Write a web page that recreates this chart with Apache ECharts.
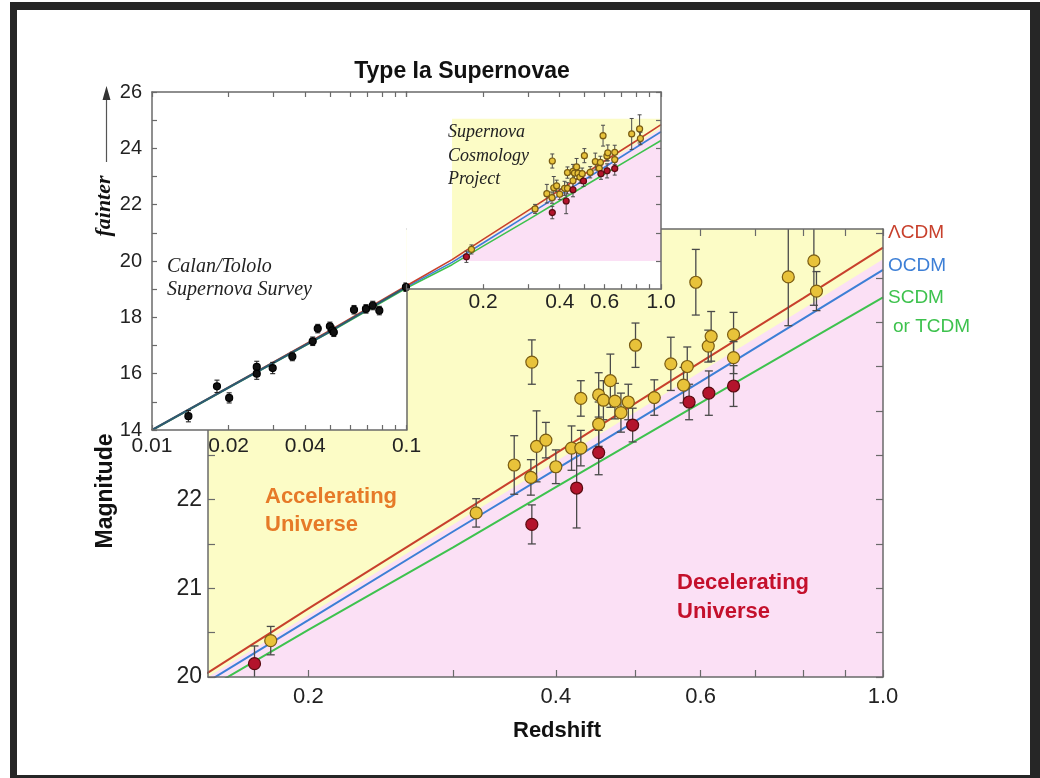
<!DOCTYPE html>
<html>
<head>
<meta charset="utf-8">
<title>Type Ia Supernovae</title>
<script src="https://cdn.jsdelivr.net/npm/echarts@6.0.0/dist/echarts.min.js"></script>
<style>
html, body { margin:0; padding:0; background:#fff; width:1040px; height:778px; overflow:hidden; }
#frame { position:absolute; left:10px; top:2px; width:1030px; height:776px; background:#262626; }
#inner { position:absolute; left:17px; top:10px; width:1013px; height:765px; background:#fff; }
#chart { position:absolute; left:0; top:0; width:1040px; height:778px; }
</style>
</head>
<body>
<div id="frame"></div>
<div id="inner"></div>
<div id="chart"></div>
<script>
const LOG = Math.log10;
const FONT = '"Liberation Sans", Arial, Helvetica, sans-serif';
const SERIF = '"Liberation Serif", "DejaVu Serif", Times, serif';

// ---------- axis domains ----------
const mainZRange = [0.151, 1.0];
const mainMagRange = [20, 25.05];
const insetLowZRange = [0.01, 0.1];
const insetHighZRange = [0.1, 1.0];
const insetMagRange = [14, 26];
const insetHighMagRange = [19, 26];

// ---------- ticks and tick labels ----------
const mainXTicks = [0.2, 0.3, 0.4, 0.5, 0.6, 0.7, 0.8, 0.9, 1.0];
const mainXLabelValues = [0.2, 0.4, 0.6, 1.0];
const mainXLabels = ['0.2', '0.4', '0.6', '1.0'];
const mainYTicks = [20, 20.5, 21, 21.5, 22, 22.5, 23, 23.5, 24, 24.5, 25];
const mainYLabels = [20, 21, 22];

const insetLowXTicks = [0.01, 0.02, 0.03, 0.04, 0.05, 0.06, 0.07, 0.08, 0.09, 0.1];
const insetLowXLabelValues = [0.01, 0.02, 0.04, 0.1];
const insetLowXLabels = ['0.01', '0.02', '0.04', '0.1'];
const insetHighXTicks = [0.1, 0.2, 0.3, 0.4, 0.5, 0.6, 0.7, 0.8, 0.9, 1.0];
const insetHighXLabelValues = [0.2, 0.4, 0.6, 1.0];
const insetHighXLabels = ['0.2', '0.4', '0.6', '1.0'];
const insetYTicks = [14, 15, 16, 17, 18, 19, 20, 21, 22, 23, 24, 25, 26];
const insetYLabels = [14, 16, 18, 20, 22, 24, 26];
const insetHighYTicks = [20, 21, 22, 23, 24, 25, 26];

// ---------- cosmological model curves ----------
const modelZ    = [0.01,  0.02,  0.05,  0.1,   0.151, 0.2,   0.3,   0.4,   0.6,   0.8,   1.0];
const lambdaCDM = [14.00, 15.52, 17.53, 19.12, 20.05, 20.77, 21.79, 22.52, 23.55, 24.27, 24.84];
const openCDM   = [14.00, 15.51, 17.50, 19.08, 19.95, 20.64, 21.64, 22.34, 23.33, 24.04, 24.59];
const flatCDM   = [13.99, 15.50, 17.48, 19.04, 19.87, 20.53, 21.46, 22.14, 23.09, 23.76, 24.28];

// accelerating / decelerating boundary
const boundaryZ   = [0.151, 0.2,   0.3,   0.4,   0.6,   0.8,   1.0];
const boundaryMag = [20.00, 20.70, 21.72, 22.43, 23.44, 24.15, 24.71];

// ---------- Supernova Cosmology Project (yellow) ----------
const scpZ   = [0.180, 0.320, 0.356, 0.373, 0.379, 0.389, 0.400, 0.418, 0.429, 0.451, 0.374, 0.429, 0.451, 0.457, 0.466, 0.472, 0.480, 0.490, 0.500, 0.527, 0.552, 0.572, 0.578, 0.592, 0.613, 0.618, 0.658, 0.658, 0.767, 0.824, 0.830];
const scpMag = [20.41, 21.85, 22.39, 22.25, 22.60, 22.67, 22.37, 22.58, 22.58, 22.85, 23.55, 23.14, 23.18, 23.12, 23.34, 23.11, 22.98, 23.10, 23.74, 23.15, 23.53, 23.29, 23.50, 24.45, 23.73, 23.84, 23.86, 23.60, 24.51, 24.69, 24.35];
const scpErr = [0.16,  0.16,  0.33,  0.20,  0.40,  0.20,  0.19,  0.25,  0.20,  0.25,  0.25,  0.20,  0.25,  0.22,  0.30,  0.20,  0.22,  0.20,  0.25,  0.20,  0.30,  0.20,  0.22,  0.37,  0.18,  0.28,  0.25,  0.18,  0.55,  0.50,  0.22];

// ---------- red points ----------
const redZ   = [0.172, 0.374, 0.424, 0.451, 0.496, 0.581, 0.614, 0.658];
const redMag = [20.15, 21.72, 22.13, 22.53, 22.84, 23.10, 23.20, 23.28];
const redErr = [0.20,  0.22,  0.45,  0.25,  0.19,  0.20,  0.25,  0.23];

// ---------- Calan/Tololo Supernova Survey (black) ----------
const calanZ   = [0.0139, 0.0180, 0.0201, 0.0258, 0.0258, 0.0298, 0.0356, 0.0428, 0.0448, 0.0500, 0.0511, 0.0518, 0.0622, 0.0693, 0.0737, 0.0782, 0.0995];
const calanMag = [14.49,  15.55,  15.14,  16.24,  16.00,  16.20,  16.61,  17.15,  17.60,  17.68,  17.54,  17.47,  18.27,  18.30,  18.42,  18.24,  19.07];
const calanErr = [0.20,   0.22,   0.18,   0.20,   0.20,   0.20,   0.15,   0.15,   0.15,   0.15,   0.15,   0.15,   0.15,   0.15,   0.15,   0.15,   0.15];

// ---------- colours ----------
const AXIS_COLOR = '#6a6a6a';
const YELLOW_BG = '#fcfcc6';
const PINK_BG = '#fbe0f5';
const C_LAMBDA = '#c8402c';
const C_OPEN = '#3d7fd6';
const C_FLAT = '#3ec24e';
const C_YELLOW_PT = '#e8c23a';
const C_YELLOW_EDGE = '#7a5c12';
const C_RED_PT = '#b3142c';
const C_RED_EDGE = '#5a0a10';
const C_BAR = '#4a4a4a';

// ---------- helpers ----------
function pts(zs, ms) { return zs.map((z, i) => [z, ms[i]]); }

function labelFor(vals, texts) {
  return function (v) {
    for (let i = 0; i < vals.length; i++) {
      if (Math.abs(LOG(vals[i]) - v) < 1e-6) return texts[i];
    }
    return '';
  };
}

function logDataAxis(gridIndex, range) {
  return { type: 'log', logBase: 10, gridIndex, min: range[0], max: range[1], show: false };
}

function logTickAxis(gridIndex, range, ticks, labelVals, labelTexts, position, labelSize, labelMargin, tickLen, z) {
  const ax = {
    type: 'value', gridIndex, position, z,
    min: LOG(range[0]), max: LOG(range[1]),
    axisLine: { show: true, onZero: false, lineStyle: { color: AXIS_COLOR, width: 1.5 } },
    axisTick: { show: true, inside: true, length: tickLen, customValues: ticks.map(LOG), lineStyle: { color: AXIS_COLOR, width: 1.2 } },
    splitLine: { show: false },
    axisLabel: { show: false }
  };
  if (labelVals) {
    ax.axisLabel = {
      show: true, customValues: labelVals.map(LOG), formatter: labelFor(labelVals, labelTexts),
      fontSize: labelSize, margin: labelMargin, color: '#222', fontFamily: FONT
    };
  }
  return ax;
}

function magAxis(gridIndex, range, ticks, labels, position, tickLen, labelSize, labelMargin, z) {
  const ax = {
    type: 'value', gridIndex, position, z,
    min: range[0], max: range[1],
    axisLine: { show: true, onZero: false, lineStyle: { color: AXIS_COLOR, width: 1.5 } },
    axisTick: { show: true, inside: true, length: tickLen, customValues: ticks, lineStyle: { color: AXIS_COLOR, width: 1.2 } },
    splitLine: { show: false },
    axisLabel: { show: false }
  };
  if (labels) {
    ax.axisLabel = { show: true, customValues: labels, fontSize: labelSize, margin: labelMargin, color: '#222', fontFamily: FONT };
  }
  return ax;
}

function modelLine(xi, yi, mags, color, width, z) {
  return {
    type: 'line', xAxisIndex: xi, yAxisIndex: yi, z, silent: true,
    data: pts(modelZ, mags), showSymbol: false, symbol: 'none', clip: true,
    lineStyle: { color, width }
  };
}

function areaSeries(xi, yi, zs, ms, color, origin, z) {
  return {
    type: 'line', xAxisIndex: xi, yAxisIndex: yi, z, silent: true,
    data: pts(zs, ms), showSymbol: false, symbol: 'none', clip: true,
    lineStyle: { width: 0, opacity: 0 },
    areaStyle: { color, opacity: 1, origin }
  };
}

function errorBarSeries(xi, yi, zs, ms, es, cap, color, width, z) {
  return {
    type: 'custom', xAxisIndex: xi, yAxisIndex: yi, z, clip: true, silent: true,
    encode: { x: 0, y: [1, 2] },
    data: zs.map((zv, i) => [zv, ms[i] - es[i], ms[i] + es[i]]),
    renderItem: function (params, api) {
      const lo = api.coord([api.value(0), api.value(1)]);
      const hi = api.coord([api.value(0), api.value(2)]);
      const st = { stroke: color, lineWidth: width };
      return {
        type: 'group',
        children: [
          { type: 'line', shape: { x1: lo[0], y1: lo[1], x2: hi[0], y2: hi[1] }, style: st },
          { type: 'line', shape: { x1: lo[0] - cap, y1: lo[1], x2: lo[0] + cap, y2: lo[1] }, style: st },
          { type: 'line', shape: { x1: hi[0] - cap, y1: hi[1], x2: hi[0] + cap, y2: hi[1] }, style: st }
        ]
      };
    }
  };
}

function pointSeries(xi, yi, zs, ms, size, fill, edge, z) {
  return {
    type: 'scatter', xAxisIndex: xi, yAxisIndex: yi, z, silent: true,
    symbol: 'circle', symbolSize: size, data: pts(zs, ms),
    itemStyle: { color: fill, borderColor: edge, borderWidth: 1.2, opacity: 1 }
  };
}

function txt(x, y, text, font, fill, opts) {
  return Object.assign({
    type: 'text', x, y, z: 100, silent: true,
    style: Object.assign({ text, font, fill, align: 'left', verticalAlign: 'middle' }, (opts && opts.style) || {})
  }, (opts && opts.el) || {});
}

// ---------- option ----------
const option = {
  animation: false,
  backgroundColor: 'transparent',
  grid: [
    { left: 208, top: 229, width: 675, height: 448, show: true, backgroundColor: YELLOW_BG, borderWidth: 0, z: 0, outerBoundsMode: 'none' },
    { left: 152, top: 92, width: 254.5, height: 338, show: true, backgroundColor: '#ffffff', borderWidth: 0, z: 10, outerBoundsMode: 'none' },
    { left: 406.5, top: 92, width: 254.5, height: 197.17, show: true, backgroundColor: '#ffffff', borderWidth: 0, z: 10, outerBoundsMode: 'none' },
    { left: 152, top: 289.17, width: 254.5, height: 140.83, show: false, z: 10, outerBoundsMode: 'none' }
  ],
  xAxis: [
    logDataAxis(0, mainZRange),                                                                                  // 0
    logTickAxis(0, mainZRange, mainXTicks, mainXLabelValues, mainXLabels, 'bottom', 22, 9, 7, 6),                // 1
    logTickAxis(0, mainZRange, mainXTicks, null, null, 'top', 0, 0, 7, 6),                                       // 2
    logDataAxis(1, insetLowZRange),                                                                              // 3
    logTickAxis(1, insetLowZRange, insetLowXTicks, insetLowXLabelValues, insetLowXLabels, 'bottom', 21, 6, 5, 16), // 4
    logTickAxis(1, insetLowZRange, insetLowXTicks, null, null, 'top', 0, 0, 5, 16),                              // 5
    logDataAxis(2, insetHighZRange),                                                                             // 6
    logTickAxis(2, insetHighZRange, insetHighXTicks, insetHighXLabelValues, insetHighXLabels, 'bottom', 21, 3, 5, 16), // 7
    logTickAxis(2, insetHighZRange, insetHighXTicks, null, null, 'top', 0, 0, 5, 16),                            // 8
    { type: 'value', gridIndex: 3, min: 0, max: 1, show: false }                                                 // 9
  ],
  yAxis: [
    magAxis(0, mainMagRange, mainYTicks, mainYLabels, 'left', 7, 23, 6, 6),        // 0
    magAxis(0, mainMagRange, mainYTicks, null, 'right', 7, 0, 0, 6),               // 1
    magAxis(1, insetMagRange, insetYTicks, insetYLabels, 'left', 5, 20, 10, 16),   // 2
    { type: 'value', gridIndex: 2, min: insetHighMagRange[0], max: insetHighMagRange[1], show: false }, // 3
    magAxis(2, insetHighMagRange, insetHighYTicks, null, 'right', 5, 0, 0, 16),    // 4
    { type: 'value', gridIndex: 3, position: 'right', min: 0, max: 1, z: 16,       // 5
      axisLine: { show: true, onZero: false, lineStyle: { color: AXIS_COLOR, width: 1.5 } },
      axisTick: { show: false }, axisLabel: { show: false }, splitLine: { show: false } }
  ],
  series: [
    // main chart
    areaSeries(0, 0, boundaryZ, boundaryMag, PINK_BG, 'start', 1),
    modelLine(0, 0, flatCDM, C_FLAT, 2, 3),
    modelLine(0, 0, openCDM, C_OPEN, 2, 3),
    modelLine(0, 0, lambdaCDM, C_LAMBDA, 2, 3),
    errorBarSeries(0, 0, scpZ, scpMag, scpErr, 4, C_BAR, 1.3, 4),
    errorBarSeries(0, 0, redZ, redMag, redErr, 4, C_BAR, 1.3, 4),
    pointSeries(0, 0, scpZ, scpMag, 12, C_YELLOW_PT, C_YELLOW_EDGE, 5),
    pointSeries(0, 0, redZ, redMag, 12, C_RED_PT, C_RED_EDGE, 5),

    // inset, high-redshift part
    areaSeries(6, 3, mainZRange, [mainMagRange[1], mainMagRange[1]], YELLOW_BG, mainMagRange[0], 11),
    areaSeries(6, 3, boundaryZ, boundaryMag, PINK_BG, mainMagRange[0], 12),
    modelLine(6, 3, flatCDM, C_FLAT, 1.6, 13),
    modelLine(6, 3, openCDM, C_OPEN, 1.6, 13),
    modelLine(6, 3, lambdaCDM, C_LAMBDA, 1.6, 13),
    errorBarSeries(6, 3, scpZ, scpMag, scpErr, 2, C_BAR, 1, 14),
    errorBarSeries(6, 3, redZ, redMag, redErr, 2, C_BAR, 1, 14),
    pointSeries(6, 3, scpZ, scpMag, 6, C_YELLOW_PT, C_YELLOW_EDGE, 15),
    pointSeries(6, 3, redZ, redMag, 6, C_RED_PT, C_RED_EDGE, 15),

    // inset, low-redshift part
    modelLine(3, 2, flatCDM, C_FLAT, 1.8, 13),
    modelLine(3, 2, lambdaCDM, C_LAMBDA, 1.8, 13),
    modelLine(3, 2, openCDM, '#2d5b72', 2.2, 13),
    errorBarSeries(3, 2, calanZ, calanMag, calanErr, 2.5, '#222', 1.1, 14),
    pointSeries(3, 2, calanZ, calanMag, 7, '#111', '#000', 15)
  ],
  graphic: [
    txt(462, 72, 'Type Ia Supernovae', 'bold 23px ' + FONT, '#111', { style: { align: 'center' } }),
    { type: 'line', z: 100, silent: true, shape: { x1: 106.5, y1: 162, x2: 106.5, y2: 97 }, style: { stroke: '#555', lineWidth: 1.2 } },
    { type: 'polygon', z: 100, silent: true, shape: { points: [[106.5, 86], [102.5, 100], [110.5, 100]] }, style: { fill: '#333' } },
    txt(104, 206, 'fainter', 'italic bold 22px ' + SERIF, '#111', { style: { align: 'center' }, el: { rotation: Math.PI / 2 } }),
    txt(106, 491, 'Magnitude', 'bold 23px ' + FONT, '#111', { style: { align: 'center' }, el: { rotation: Math.PI / 2 } }),
    txt(557, 731, 'Redshift', 'bold 22px ' + FONT, '#111', { style: { align: 'center' } }),
    txt(167, 255, 'Calan/Tololo\nSupernova Survey', 'italic 20px ' + SERIF, '#222', { style: { verticalAlign: 'top', lineHeight: 23 } }),
    txt(448, 121, 'Supernova\nCosmology\nProject', 'italic 18px ' + SERIF, '#222', { style: { verticalAlign: 'top', lineHeight: 23.5 } }),
    txt(265, 483, 'Accelerating\nUniverse', 'bold 22px ' + FONT, '#e67a28', { style: { verticalAlign: 'top', lineHeight: 28 } }),
    txt(677, 568, 'Decelerating\nUniverse', 'bold 22px ' + FONT, '#c4102c', { style: { verticalAlign: 'top', lineHeight: 29 } }),
    txt(888, 233, 'ΛCDM', '19px ' + FONT, C_LAMBDA),
    txt(888, 266, 'OCDM', '19px ' + FONT, C_OPEN),
    txt(888, 298, 'SCDM', '19px ' + FONT, C_FLAT),
    txt(893, 327, 'or TCDM', '19px ' + FONT, C_FLAT)
  ]
};

const chart = echarts.init(document.getElementById('chart'), null, { renderer: 'canvas', width: 1040, height: 778 });
chart.setOption(option);
</script>
</body>
</html>
